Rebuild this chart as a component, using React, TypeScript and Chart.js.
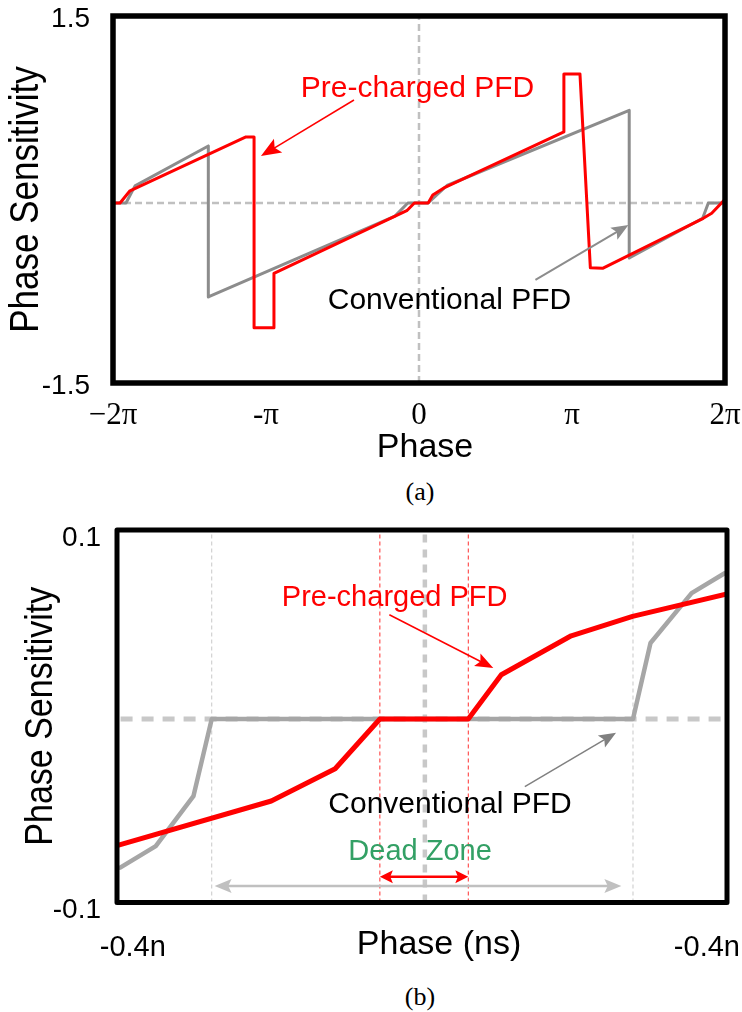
import React, { useEffect, useRef } from 'react';
import { Chart, registerables } from 'chart.js';

Chart.register(...registerables);

const SANS = "'Liberation Sans', Arial, Helvetica, sans-serif";
const SERIF = "'Liberation Serif', 'Times New Roman', serif";

// ---------- Chart (a): full phase range (x in units of pi) ----------
const phaseTicksA = [-2, -1, 0, 1, 2];
const phaseTickLabelsA = ['\u22122\u03c0', '-\u03c0', '0', '\u03c0', '2\u03c0'];
const sensRangeA = [-1.4714, 1.5286];
const sensTicksA = [-1.5, 1.5];
const sensTickLabelsA = ['-1.5', '1.5'];

const preX_A = [-2, -1.954, -1.889, -1.131, -1.078, -1.078, -0.948, -0.948, -0.08, -0.03, 0.06, 0.09, 0.17, 0.947, 0.947, 1.052, 1.12, 1.2, 1.858, 1.913, 2];
const preY_A = [0, 0, 0.1, 0.54, 0.54, -1.02, -1.02, -0.575, -0.063, 0, 0, 0.065, 0.128, 0.581, 1.055, 1.055, -0.53, -0.534, -0.125, -0.084, 0.03];
const convX_A = [-2, -1.915, -1.856, -1.377, -1.377, -0.157, -0.073, 0.06, 0.183, 1.374, 1.374, 1.854, 1.891, 2];
const convY_A = [0, 0, 0.14, 0.466, -0.768, -0.107, 0, 0, 0.143, 0.757, -0.45, -0.125, 0, 0];

// ---------- Chart (b): zoom around zero (ns) ----------
const phaseRangeB = [-0.422, 0.428];
const phaseTicksB = [-0.4, 0.4];
const phaseTickLabelsB = ['-0.4n', '-0.4n'];
const sensRangeB = [-0.0985, 0.1015];
const sensTicksB = [-0.1, 0.1];
const sensTickLabelsB = ['-0.1', '0.1'];

const preX_B = [-0.421, -0.207, -0.118, -0.0557, 0.0675, 0.1135, 0.2109, 0.2964, 0.428];
const preY_B = [-0.0678, -0.044, -0.0267, 0, 0, 0.0238, 0.0447, 0.0551, 0.0672];
const convX_B = [-0.4176, -0.368, -0.3155, -0.29, 0.297, 0.3214, 0.3787, 0.4247];
const convY_B = [-0.0798, -0.0682, -0.0414, 0, 0, 0.0408, 0.0676, 0.0783];

const convDeadZoneB = [-0.29, 0.297];
const preDeadZoneB = [-0.0557, 0.0675];
const centerLineB = 0.007;

type P = { x: number; y: number };
const toPoints = (xs: number[], ys: number[]): P[] => xs.map((x, i) => ({ x, y: ys[i] }));

interface TextAnno { text: string; x: number; y: number; color: string; size: number }
interface ArrowAnno { x1: number; y1: number; x2: number; y2: number; color: string; width: number; headLen: number; headW: number; both?: boolean }
interface Deco {
  frameWidth: number;
  frameJoin: CanvasLineJoin;
  texts: TextAnno[];
  arrows: ArrowAnno[];
  xTitle: { text: string; cx: number; baseline: number; size: number };
  yTitle: { text: string; baselineX: number; size: number; stretch: number };
}

function drawHead(ctx: CanvasRenderingContext2D, tx: number, ty: number, fx: number, fy: number, len: number, w: number) {
  const ang = Math.atan2(ty - fy, tx - fx);
  const bx = tx - len * Math.cos(ang);
  const by = ty - len * Math.sin(ang);
  const s = Math.sin(ang), c = Math.cos(ang);
  ctx.beginPath();
  ctx.moveTo(tx, ty);
  ctx.lineTo(bx + (w / 2) * s, by - (w / 2) * c);
  ctx.lineTo(tx - len * 0.8 * c, ty - len * 0.8 * s);
  ctx.lineTo(bx - (w / 2) * s, by + (w / 2) * c);
  ctx.closePath();
  ctx.fill();
}

function makeDecoPlugin(deco: Deco) {
  return {
    id: 'pfdDeco',
    afterDatasetsDraw(chart: any) {
      const { ctx, chartArea, scales } = chart;
      const xs = scales.x, ys = scales.y;
      ctx.save();
      // arrows
      for (const a of deco.arrows) {
        const x1 = xs.getPixelForValue(a.x1), y1 = ys.getPixelForValue(a.y1);
        const x2 = xs.getPixelForValue(a.x2), y2 = ys.getPixelForValue(a.y2);
        const ang = Math.atan2(y2 - y1, x2 - x1);
        const c = Math.cos(ang), s = Math.sin(ang);
        const sx = a.both ? x1 + a.headLen * 0.7 * c : x1;
        const sy = a.both ? y1 + a.headLen * 0.7 * s : y1;
        const ex = x2 - a.headLen * 0.7 * c, ey = y2 - a.headLen * 0.7 * s;
        ctx.strokeStyle = a.color;
        ctx.fillStyle = a.color;
        ctx.lineWidth = a.width;
        ctx.setLineDash([]);
        ctx.beginPath();
        ctx.moveTo(sx, sy);
        ctx.lineTo(ex, ey);
        ctx.stroke();
        drawHead(ctx, x2, y2, x1, y1, a.headLen, a.headW);
        if (a.both) drawHead(ctx, x1, y1, x2, y2, a.headLen, a.headW);
      }
      // texts
      ctx.textAlign = 'center';
      ctx.textBaseline = 'alphabetic';
      for (const t of deco.texts) {
        ctx.font = `${t.size}px ${SANS}`;
        ctx.fillStyle = t.color;
        ctx.fillText(t.text, xs.getPixelForValue(t.x), ys.getPixelForValue(t.y));
      }
      // x axis title
      ctx.font = `${deco.xTitle.size}px ${SANS}`;
      ctx.fillStyle = '#000';
      ctx.fillText(deco.xTitle.text, deco.xTitle.cx, deco.xTitle.baseline);
      // y axis title (rotated, centred on the plot height)
      ctx.save();
      ctx.translate(deco.yTitle.baselineX, (chartArea.top + chartArea.bottom) / 2);
      ctx.rotate(-Math.PI / 2);
      ctx.scale(1, deco.yTitle.stretch);
      ctx.font = `${deco.yTitle.size}px ${SANS}`;
      ctx.fillText(deco.yTitle.text, 0, 0);
      ctx.restore();
      // frame
      ctx.strokeStyle = '#000';
      ctx.lineWidth = deco.frameWidth;
      ctx.lineJoin = deco.frameJoin;
      ctx.strokeRect(chartArea.left, chartArea.top, chartArea.right - chartArea.left, chartArea.bottom - chartArea.top);
      ctx.restore();
    },
  };
}

const lineDs = (label: string, data: P[], color: string, width: number, dash: number[] = []) => ({
  label,
  data,
  borderColor: color,
  backgroundColor: color,
  borderWidth: width,
  borderDash: dash,
  showLine: true,
  pointRadius: 0,
  pointHoverRadius: 0,
  tension: 0,
  borderJoinStyle: 'round' as const,
  borderCapStyle: dash.length ? ('butt' as const) : ('round' as const),
  fill: false,
});

function configA(): any {
  const deco: Deco = {
    frameWidth: 5.5,
    frameJoin: 'miter',
    texts: [
      { text: 'Pre-charged PFD', x: -0.01, y: 0.864, color: '#ff0000', size: 30 },
      { text: 'Conventional PFD', x: 0.199, y: -0.868, color: '#000000', size: 30 },
    ],
    arrows: [
      { x1: -0.425, y1: 0.842, x2: -1.033, y2: 0.384, color: '#ff0000', width: 1.5, headLen: 20, headW: 16 },
      { x1: 0.761, y1: -0.629, x2: 1.369, y2: -0.18, color: '#8c8c8c', width: 2, headLen: 17, headW: 14 },
    ],
    xTitle: { text: 'Phase', cx: 425, baseline: 457, size: 34 },
    yTitle: { text: 'Phase Sensitivity', baselineX: 38, size: 35, stretch: 1.15 },
  };
  return {
    type: 'scatter',
    data: {
      datasets: [
        lineDs('Pre-charged PFD', toPoints(preX_A, preY_A), '#ff0000', 3),
        lineDs('Conventional PFD', toPoints(convX_A, convY_A), '#8c8c8c', 3),
        lineDs('zero-h', toPoints([phaseTicksA[0], phaseTicksA[4]], [0, 0]), '#c0c0c0', 2.5, [7, 4]),
        lineDs('zero-v', toPoints([0, 0], sensRangeA), '#c0c0c0', 2.5, [7, 4]),
      ],
    },
    options: {
      animation: false,
      responsive: false,
      events: [],
      layout: { padding: { left: 0, top: 16, right: 17, bottom: 0 } },
      plugins: { legend: { display: false }, tooltip: { enabled: false } },
      scales: {
        x: {
          type: 'linear',
          min: phaseTicksA[0],
          max: phaseTicksA[4],
          afterBuildTicks: (s: any) => { s.ticks = phaseTicksA.map((v) => ({ value: v })); },
          afterFit: (s: any) => { s.height = 87; s.paddingLeft = 0; s.paddingRight = 0; },
          grid: { display: false, drawTicks: false },
          border: { display: false },
          ticks: {
            callback: (_v: any, i: number) => phaseTickLabelsA[i],
            font: { family: SERIF, size: 31 },
            color: '#000',
            padding: 14,
            maxRotation: 0,
            minRotation: 0,
            autoSkip: false,
          },
        },
        y: {
          type: 'linear',
          min: sensRangeA[0],
          max: sensRangeA[1],
          afterBuildTicks: (s: any) => { s.ticks = sensTicksA.map((v) => ({ value: v })); },
          afterFit: (s: any) => { s.width = 113; s.paddingTop = 0; s.paddingBottom = 0; },
          grid: { display: false, drawTicks: false },
          border: { display: false },
          title: { display: false },
          ticks: {
            callback: (_v: any, i: number) => sensTickLabelsA[i],
            font: { family: SANS, size: 28 },
            color: '#000',
            padding: 23,
            autoSkip: false,
          },
        },
      },
    },
    plugins: [makeDecoPlugin(deco)],
  };
}

function configB(): any {
  const deco: Deco = {
    frameWidth: 5,
    frameJoin: 'round',
    texts: [
      { text: 'Pre-charged PFD', x: -0.0351, y: 0.0605, color: '#ff0000', size: 29 },
      { text: 'Conventional PFD', x: 0.0421, y: -0.0506, color: '#000000', size: 30 },
      { text: 'Dead Zone', x: 0.0003, y: -0.0756, color: '#33a065', size: 29 },
    ],
    arrows: [
      { x1: -0.0425, y1: 0.056, x2: 0.1023, y2: 0.0274, color: '#ff0000', width: 1.5, headLen: 18, headW: 14 },
      { x1: 0.1463, y1: -0.0363, x2: 0.2734, y2: -0.0074, color: '#808080', width: 1.5, headLen: 17, headW: 14 },
      { x1: preDeadZoneB[0], y1: -0.0847, x2: preDeadZoneB[1], y2: -0.0847, color: '#ff0000', width: 2.5, headLen: 13, headW: 13, both: true },
      { x1: -0.286, y1: -0.0896, x2: 0.2808, y2: -0.0896, color: '#c0c0c0', width: 2.5, headLen: 17, headW: 14, both: true },
    ],
    xTitle: { text: 'Phase (ns)', cx: 439, baseline: 444, size: 34 },
    yTitle: { text: 'Phase Sensitivity', baselineX: 52, size: 34, stretch: 1.15 },
  };
  return {
    type: 'scatter',
    data: {
      datasets: [
        lineDs('Pre-charged PFD', toPoints(preX_B, preY_B), '#ff0000', 5),
        lineDs('Conventional PFD', toPoints(convX_B, convY_B), '#a6a6a6', 4.5),
        lineDs('zero-h', toPoints([-0.417, 0.42], [0, 0]), '#c8c8c8', 5, [12, 9]),
        lineDs('center-v', toPoints([centerLineB, centerLineB], sensRangeB), '#c8c8c8', 4.5, [8, 7]),
        lineDs('conv-dz-l', toPoints([convDeadZoneB[0], convDeadZoneB[0]], sensRangeB), '#c8c8c8', 1, [4, 3]),
        lineDs('conv-dz-r', toPoints([convDeadZoneB[1], convDeadZoneB[1]], sensRangeB), '#c8c8c8', 1, [4, 3]),
        lineDs('pre-dz-l', toPoints([preDeadZoneB[0], preDeadZoneB[0]], sensRangeB), '#ff3030', 1, [4, 3]),
        lineDs('pre-dz-r', toPoints([preDeadZoneB[1], preDeadZoneB[1]], sensRangeB), '#ff3030', 1, [4, 3]),
      ],
    },
    options: {
      animation: false,
      responsive: false,
      events: [],
      layout: { padding: { left: 0, top: 20, right: 15, bottom: 0 } },
      plugins: { legend: { display: false }, tooltip: { enabled: false } },
      scales: {
        x: {
          type: 'linear',
          min: phaseRangeB[0],
          max: phaseRangeB[1],
          afterBuildTicks: (s: any) => { s.ticks = phaseTicksB.map((v) => ({ value: v })); },
          afterFit: (s: any) => { s.height = 77.5; s.paddingLeft = 0; s.paddingRight = 0; },
          grid: { display: false, drawTicks: false },
          border: { display: false },
          ticks: {
            callback: (_v: any, i: number) => phaseTickLabelsB[i],
            font: { family: SANS, size: 29 },
            color: '#000',
            padding: 28,
            maxRotation: 0,
            minRotation: 0,
            autoSkip: false,
          },
        },
        y: {
          type: 'linear',
          min: sensRangeB[0],
          max: sensRangeB[1],
          afterBuildTicks: (s: any) => { s.ticks = sensTicksB.map((v) => ({ value: v })); },
          afterFit: (s: any) => { s.width = 117; s.paddingTop = 0; s.paddingBottom = 0; },
          grid: { display: false, drawTicks: false },
          border: { display: false },
          title: { display: false },
          ticks: {
            callback: (_v: any, i: number) => sensTickLabelsB[i],
            font: { family: SANS, size: 28 },
            color: '#000',
            padding: 16,
            labelOffset: 5,
            autoSkip: false,
          },
        },
      },
    },
    plugins: [makeDecoPlugin(deco)],
  };
}

function ChartCanvas({ make, top }: { make: () => any; top: number }) {
  const ref = useRef<HTMLCanvasElement | null>(null);
  useEffect(() => {
    if (!ref.current) return;
    const chart = new Chart(ref.current, make());
    return () => chart.destroy();
  }, [make]);
  return (
    <canvas
      ref={ref}
      width={742}
      height={470}
      style={{ position: 'absolute', left: 0, top, width: 742, height: 470, display: 'block' }}
    />
  );
}

const captionStyle = (top: number): React.CSSProperties => ({
  position: 'absolute',
  left: 0,
  top,
  width: 840,
  textAlign: 'center',
  fontFamily: SERIF,
  fontSize: 26,
  lineHeight: '28px',
  color: '#000',
});

export default function App() {
  return (
    <div style={{ position: 'absolute', left: 0, top: 0, width: 742, height: 1012, background: '#fff', overflow: 'hidden' }}>
      <ChartCanvas make={configA} top={0} />
      <div style={captionStyle(478)}>(a)</div>
      <ChartCanvas make={configB} top={510} />
      <div style={captionStyle(983)}>(b)</div>
    </div>
  );
}
